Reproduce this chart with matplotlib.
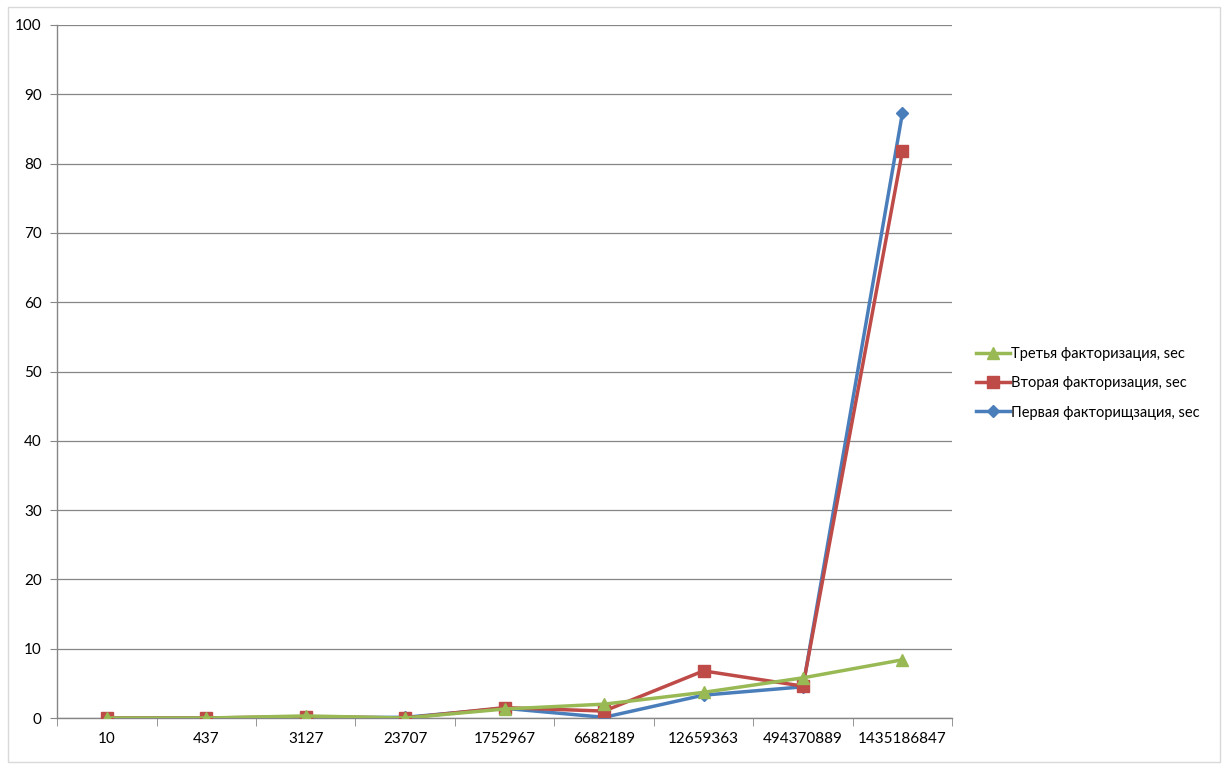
import matplotlib
matplotlib.use("Agg")
import matplotlib.pyplot as plt
from matplotlib.patches import Rectangle

categories = ["10", "437", "3127", "23707", "1752967", "6682189", "12659363", "494370889", "1435186847"]
first = [0.0, 0.0, 0.05, 0.1, 1.4, 0.1, 3.3, 4.5, 87.3]
second = [0.0, 0.0, 0.2, 0.0, 1.5, 1.0, 6.8, 4.6, 81.8]
third = [0.0, 0.0, 0.3, 0.0, 1.3, 2.0, 3.7, 5.8, 8.4]
labels = ["Первая факторищзация, sec", "Вторая факторизация, sec", "Третья факторизация, sec"]

plt.rcParams['font.family'] = ['Lato', 'DejaVu Sans']

fig = plt.figure(figsize=(12.27, 7.69), dpi=100)
ax = fig.add_axes([0.0465, 0.0663, 0.7295, 0.9012])

x = list(range(len(categories)))
l1, = ax.plot(x, first, color="#4A7EBB", lw=2.5, marker="D", ms=6.5, label=labels[0], zorder=3)
l2, = ax.plot(x, second, color="#BE4B48", lw=2.5, marker="s", ms=8, label=labels[1], zorder=4)
l3, = ax.plot(x, third, color="#98B954", lw=2.5, marker="^", ms=9, label=labels[2], zorder=5)

ax.set_xlim(-0.5, len(categories) - 0.5)
ax.set_ylim(0, 100)
ax.set_yticks(range(0, 101, 10))
ax.set_xticks(x)
ax.set_xticklabels(categories)
ax.set_xticks([i + 0.5 for i in range(-1, len(categories))], minor=True)
ax.tick_params(axis='x', which='major', length=0, pad=10, labelsize=11)
ax.tick_params(axis='x', which='minor', length=6, color="#868686", direction='out')
ax.tick_params(axis='y', length=5, color="#868686", labelsize=11, pad=6)
ax.grid(axis='y', color="#868686", lw=0.9)
ax.set_axisbelow(True)
for s in ["top", "right"]:
    ax.spines[s].set_visible(False)
for s in ["left", "bottom"]:
    ax.spines[s].set_color("#868686")
    ax.spines[s].set_linewidth(1.0)

leg = ax.legend(handles=[l3, l2, l1], loc="center left", bbox_to_anchor=(1.012, 0.483),
                frameon=False, fontsize=10.5, handlelength=2.3, handletextpad=0.1,
                labelspacing=1.05)

fig.add_artist(Rectangle((8 / 1227, 7 / 769), 1212 / 1227, 755 / 769, transform=fig.transFigure,
                         fill=False, edgecolor="#D9D9D9", lw=1))

fig.savefig("out.png", dpi=100)
